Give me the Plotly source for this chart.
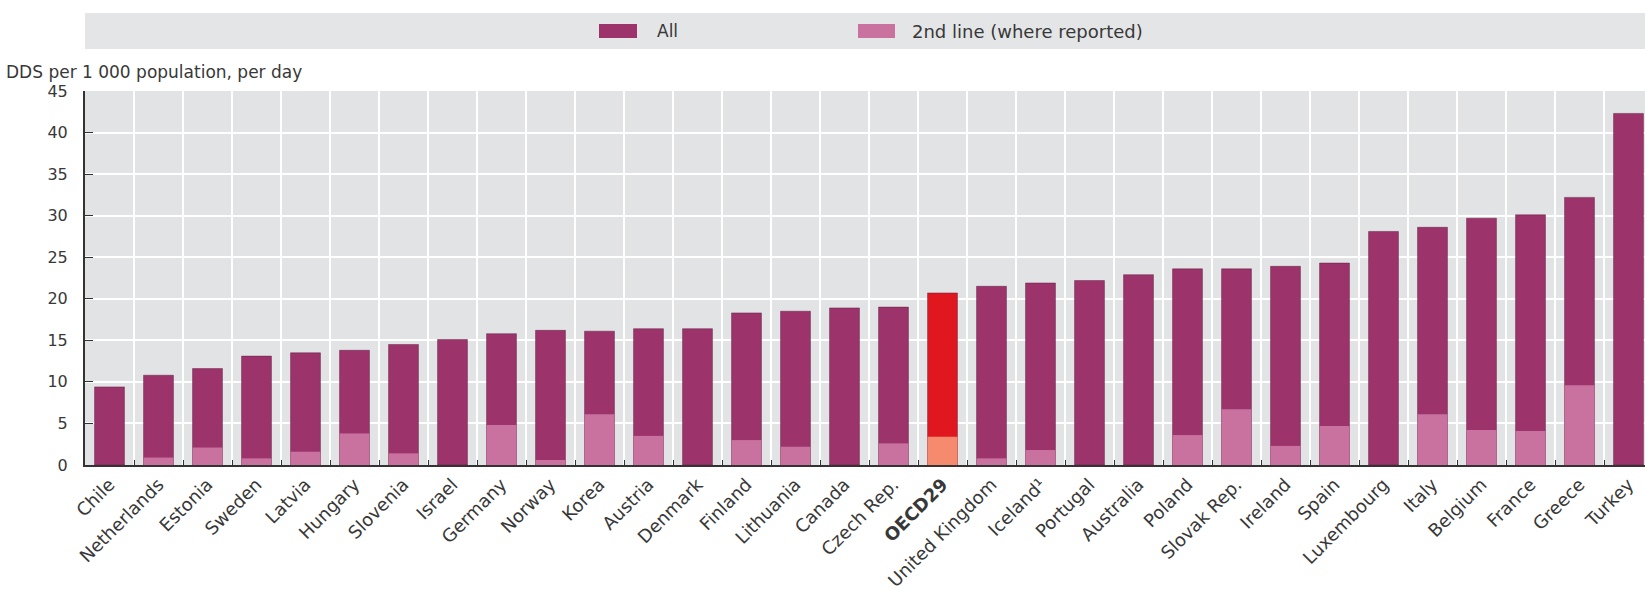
import plotly.graph_objects as go

# ---- data ----
countries = ["Chile", "Netherlands", "Estonia", "Sweden", "Latvia", "Hungary", "Slovenia",
             "Israel", "Germany", "Norway", "Korea", "Austria", "Denmark", "Finland",
             "Lithuania", "Canada", "Czech Rep.", "OECD29", "United Kingdom", "Iceland¹",
             "Portugal", "Australia", "Poland", "Slovak Rep.", "Ireland", "Spain",
             "Luxembourg", "Italy", "Belgium", "France", "Greece", "Turkey"]
all_values = [9.4, 10.8, 11.6, 13.1, 13.5, 13.8, 14.5,
              15.1, 15.8, 16.2, 16.1, 16.4, 16.4, 18.3,
              18.5, 18.9, 19.0, 20.7, 21.5, 21.9,
              22.2, 22.9, 23.6, 23.6, 23.9, 24.3,
              28.1, 28.6, 29.7, 30.1, 32.2, 42.3]
second_line = [None, 0.9, 2.1, 0.8, 1.6, 3.8, 1.4,
               None, 4.8, 0.6, 6.1, 3.5, None, 3.0,
               2.2, None, 2.6, 3.4, 0.8, 1.8,
               None, None, 3.6, 6.7, 2.3, 4.7,
               None, 6.1, 4.2, 4.1, 9.6, None]
y_ticks = [0, 5, 10, 15, 20, 25, 30, 35, 40, 45]
highlight = "OECD29"

# ---- styles ----
C_ALL = "#9d336b"
C_2ND = "#c9729f"
C_ALL_H = "#e0171e"
C_2ND_H = "#f58a6f"
FONT = "DejaVu Sans, Liberation Sans, Arial, sans-serif"
TXT = "#383838"

W, H = 1645, 590
L, T, B_PX = 85, 91, 465
plot_h = B_PX - T
plot_w = W - L
step_px = 49.0
n = len(countries)
x_max = (n - 0.5) - ((L + n * step_px) - W) / step_px

all_colors = [C_ALL_H if c == highlight else C_ALL for c in countries]
snd_colors = [C_2ND_H if c == highlight else C_2ND for c in countries]
tick_text = ["<b>%s</b>" % c if c == highlight else c for c in countries]

fig = go.Figure()
fig.add_trace(go.Bar(x=countries, y=all_values, name="All", width=0.61,
                     marker=dict(color=all_colors, line=dict(color="rgba(90,25,60,0.45)", width=1)),
                     showlegend=False))
fig.add_trace(go.Bar(x=countries, y=second_line, name="2nd line (where reported)", width=0.61,
                     marker=dict(color=snd_colors, line=dict(width=0)),
                     showlegend=False))


def py(px):
    return (B_PX - px) / plot_h


def pxx(px):
    return (px - L) / plot_w


LEG_Y = 31
shapes = [
    dict(type="rect", xref="paper", yref="paper", x0=0, x1=1, y0=py(49), y1=py(13),
         fillcolor="#e4e5e7", line=dict(width=0), layer="below"),
    dict(type="rect", xref="paper", yref="paper", x0=pxx(599), x1=pxx(637),
         y0=py(LEG_Y + 7), y1=py(LEG_Y - 7), fillcolor=C_ALL, line=dict(width=0)),
    dict(type="rect", xref="paper", yref="paper", x0=pxx(858), x1=pxx(895),
         y0=py(LEG_Y + 7), y1=py(LEG_Y - 7), fillcolor=C_2ND, line=dict(width=0)),
]
annotations = [
    dict(text="All", xref="paper", yref="paper", x=pxx(655), y=py(LEG_Y), xanchor="left",
         yanchor="middle", showarrow=False, font=dict(family=FONT, size=17, color=TXT)),
    dict(text="2nd line (where reported)", xref="paper", yref="paper", x=pxx(910), y=py(LEG_Y),
         xanchor="left", yanchor="middle", showarrow=False, font=dict(family=FONT, size=18, color=TXT)),
    dict(text="DDS per 1 000 population, per day", xref="paper", yref="paper", x=pxx(4), y=py(72),
         xanchor="left", yanchor="middle", showarrow=False, font=dict(family=FONT, size=17, color=TXT)),
]

fig.update_layout(
    width=W, height=H,
    margin=dict(l=L, r=0, t=T, b=H - B_PX, pad=0),
    barmode="overlay",
    plot_bgcolor="#e2e3e5",
    paper_bgcolor="white",
    font=dict(family=FONT, size=16, color=TXT),
    shapes=shapes,
    annotations=annotations,
    showlegend=False,
)
fig.update_xaxes(
    type="category", range=[-0.5, x_max],
    tickmode="array", tickvals=countries, ticktext=tick_text,
    tickangle=-45, tickson="boundaries",
    showgrid=True, gridcolor="white", gridwidth=2,
    ticks="inside", ticklen=5, tickcolor="#333", tickwidth=1,
    showline=True, linecolor="#333", linewidth=2,
    tickfont=dict(family=FONT, size=18, color=TXT),
    fixedrange=True,
)
fig.update_yaxes(
    range=[0, 45], tickmode="array", tickvals=y_ticks,
    showgrid=True, gridcolor="white", gridwidth=2,
    ticks="inside", ticklen=8, tickcolor="#333", tickwidth=1,
    showline=True, linecolor="#333", linewidth=2,
    zeroline=False, ticklabelstandoff=12,
    tickfont=dict(family=FONT, size=16, color=TXT),
    fixedrange=True,
)

fig.write_html("out.html", config={"displayModeBar": False},
               post_script="document.body.style.margin='0';document.body.style.overflow='hidden';")
